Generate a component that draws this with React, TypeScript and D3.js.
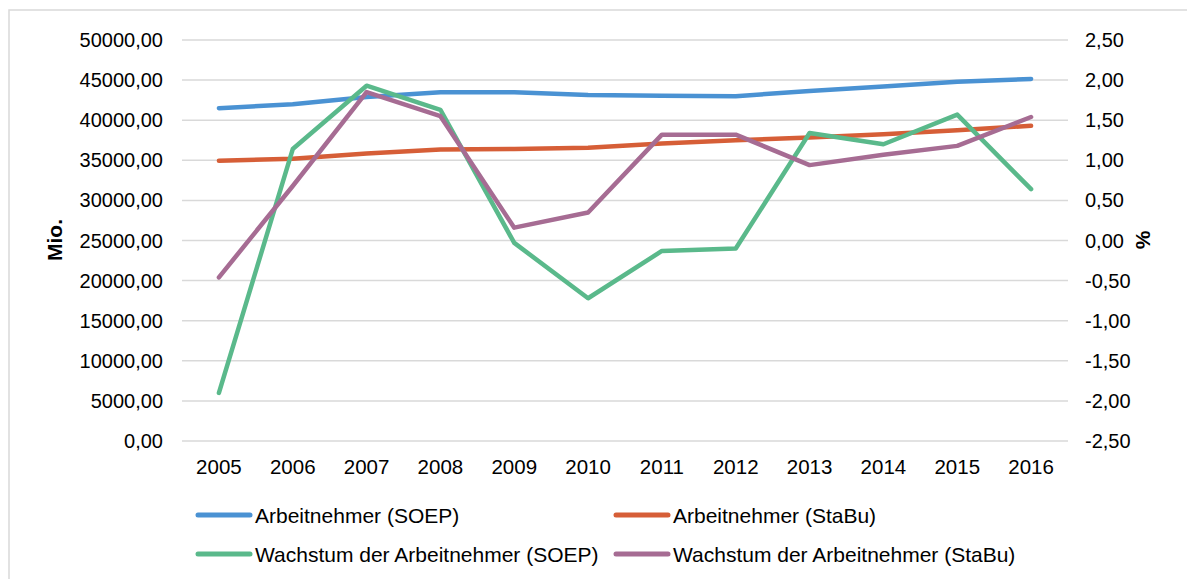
import React, { useEffect, useRef } from 'react';
import * as d3 from 'd3';

// Data
const years = ['2005', '2006', '2007', '2008', '2009', '2010', '2011', '2012', '2013', '2014', '2015', '2016'];
const arbeitnehmerSoep = [41500, 42000, 42900, 43500, 43500, 43150, 43050, 43000, 43650, 44200, 44800, 45150];
const arbeitnehmerStabu = [34950, 35200, 35850, 36350, 36400, 36550, 37100, 37500, 37850, 38250, 38750, 39300];
const wachstumSoep = [-1.9, 1.14, 1.93, 1.63, -0.03, -0.72, -0.13, -0.1, 1.34, 1.2, 1.57, 0.64];
const wachstumStabu = [-0.46, 0.68, 1.85, 1.55, 0.16, 0.35, 1.32, 1.32, 0.94, 1.07, 1.18, 1.54];
const leftTicks = [0, 5000, 10000, 15000, 20000, 25000, 30000, 35000, 40000, 45000, 50000];
const rightTicks = [-2.5, -2, -1.5, -1, -0.5, 0, 0.5, 1, 1.5, 2, 2.5];
const seriesNames = [
  'Arbeitnehmer (SOEP)',
  'Arbeitnehmer (StaBu)',
  'Wachstum der Arbeitnehmer (SOEP)',
  'Wachstum der Arbeitnehmer (StaBu)'
];
const colors = ['#4A92D3', '#D65E37', '#5AB98B', '#A66C93'];

const fmt = (v: number) => v.toFixed(2).replace('.', ',');

const App = () => {
  const chartRef = useRef<HTMLDivElement>(null);

  useEffect(() => {
    document.body.style.margin = '0';
    const W = 1187;
    const H = 579;
    const font = 'Liberation Sans, Arial, sans-serif';

    d3.select(chartRef.current).select('svg').remove();

    const svg = d3.select(chartRef.current)
      .append('svg')
      .attr('width', W)
      .attr('height', H)
      .style('display', 'block')
      .style('background', '#fff');

    // Chart frame
    svg.append('rect')
      .attr('x', 9)
      .attr('y', 10)
      .attr('width', W + 20)
      .attr('height', H + 20)
      .attr('fill', 'none')
      .attr('stroke', '#d9d9d9')
      .attr('stroke-width', 1.5);

    const x = d3.scaleBand().domain(years).range([182, 1068]).padding(0);
    const cx = (d: string) => (x(d) as number) + x.bandwidth() / 2;
    const yL = d3.scaleLinear().domain([0, 50000]).range([441, 40]);
    const yR = d3.scaleLinear().domain([-2.5, 2.5]).range([441, 40]);

    // Gridlines
    svg.append('g')
      .selectAll('line')
      .data(leftTicks)
      .enter()
      .append('line')
      .attr('x1', 182)
      .attr('x2', 1068)
      .attr('y1', d => yL(d))
      .attr('y2', d => yL(d))
      .attr('stroke', '#d9d9d9')
      .attr('stroke-width', 1.5);

    // Left axis labels
    svg.append('g')
      .selectAll('text')
      .data(leftTicks)
      .enter()
      .append('text')
      .attr('x', 163)
      .attr('y', d => yL(d))
      .attr('dy', '0.35em')
      .attr('text-anchor', 'end')
      .attr('font-family', font)
      .attr('font-size', '20px')
      .attr('fill', '#000')
      .text(d => fmt(d));

    // Right axis labels
    svg.append('g')
      .selectAll('text')
      .data(rightTicks)
      .enter()
      .append('text')
      .attr('x', 1085)
      .attr('y', d => yR(d))
      .attr('dy', '0.35em')
      .attr('text-anchor', 'start')
      .attr('font-family', font)
      .attr('font-size', '20px')
      .attr('fill', '#000')
      .text(d => fmt(d));

    // X labels
    svg.append('g')
      .selectAll('text')
      .data(years)
      .enter()
      .append('text')
      .attr('x', d => cx(d))
      .attr('y', 474)
      .attr('text-anchor', 'middle')
      .attr('font-family', font)
      .attr('font-size', '20.5px')
      .attr('fill', '#000')
      .text(d => d);

    // Axis titles
    svg.append('text')
      .attr('transform', 'translate(62,240) rotate(-90)')
      .attr('text-anchor', 'middle')
      .attr('font-family', font)
      .attr('font-weight', 'bold')
      .attr('font-size', '21px')
      .text('Mio.');

    svg.append('text')
      .attr('transform', 'translate(1150,240) rotate(-90)')
      .attr('text-anchor', 'middle')
      .attr('font-family', font)
      .attr('font-weight', 'bold')
      .attr('font-size', '21px')
      .text('%');

    // Lines
    const lineL = d3.line<number>().x((d, i) => cx(years[i])).y(d => yL(d));
    const lineR = d3.line<number>().x((d, i) => cx(years[i])).y(d => yR(d));
    const paths = [
      lineL(arbeitnehmerSoep),
      lineL(arbeitnehmerStabu),
      lineR(wachstumSoep),
      lineR(wachstumStabu)
    ];
    paths.forEach((p, i) => {
      svg.append('path')
        .attr('d', p as string)
        .attr('fill', 'none')
        .attr('stroke', colors[i])
        .attr('stroke-width', 4.5)
        .attr('stroke-linecap', 'round')
        .attr('stroke-linejoin', 'round');
    });

    // Legend
    const legendPos = [
      { x: 196, y: 515 },
      { x: 614, y: 515 },
      { x: 196, y: 554 },
      { x: 614, y: 554 }
    ];
    const legend = svg.append('g');
    seriesNames.forEach((name, i) => {
      const pos = legendPos[i];
      legend.append('line')
        .attr('x1', pos.x + 2)
        .attr('x2', pos.x + 54)
        .attr('y1', pos.y)
        .attr('y2', pos.y)
        .attr('stroke', colors[i])
        .attr('stroke-width', 5)
        .attr('stroke-linecap', 'round');
      legend.append('text')
        .attr('x', pos.x + 59)
        .attr('y', pos.y)
        .attr('dy', '0.36em')
        .attr('font-family', font)
        .attr('font-size', '21px')
        .attr('fill', '#000')
        .text(name);
    });
  }, []);

  return <div ref={chartRef}></div>;
};

export default App;
